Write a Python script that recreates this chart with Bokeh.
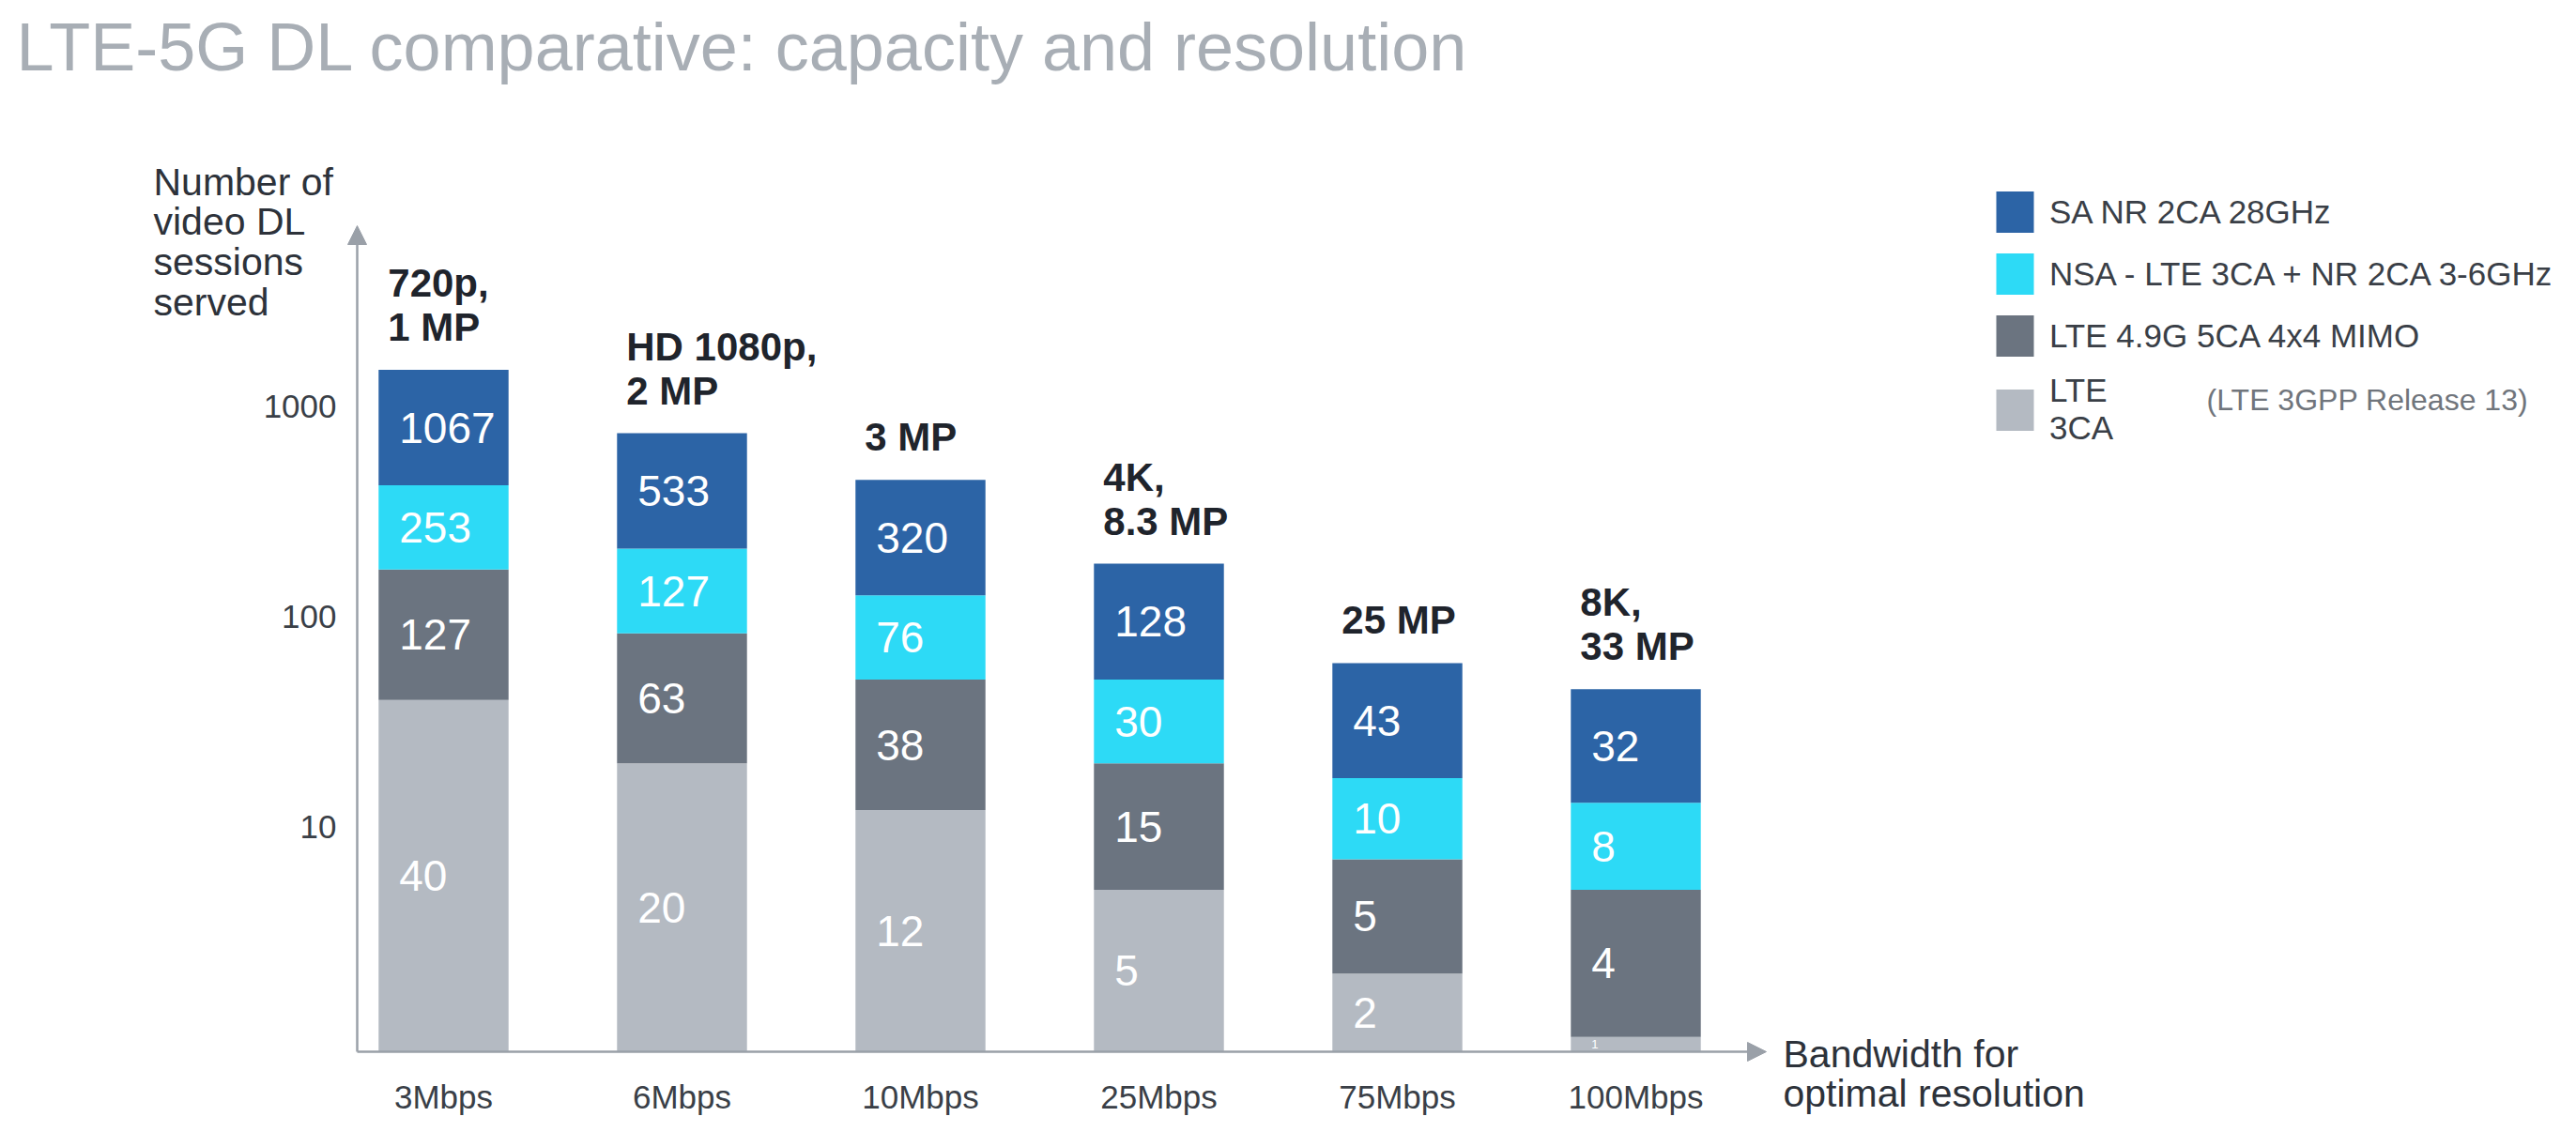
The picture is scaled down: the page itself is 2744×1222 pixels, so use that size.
import numpy as np
from bokeh.plotting import figure
from bokeh.models import (ColumnDataSource, Range1d, FixedTicker, Label, Arrow,
                          NormalHead, Legend, LegendItem, LogAxis, LinearAxis)
from bokeh.core.properties import value
from bokeh.embed import file_html
from bokeh.resources import INLINE

# ---------------- data ----------------
categories = ["3Mbps", "6Mbps", "10Mbps", "25Mbps", "75Mbps", "100Mbps"]
resolutions = ["720p,\n1 MP", "HD 1080p,\n2 MP", "3 MP", "4K,\n8.3 MP", "25 MP", "8K,\n33 MP"]
lte_3ca = [40, 20, 12, 5, 2, 1]
lte_49g = [127, 63, 38, 15, 5, 4]
nsa_lte_nr = [253, 127, 76, 30, 10, 8]
sa_nr_28 = [1067, 533, 320, 128, 43, 32]
series_names = ["LTE\n3CA", "LTE 4.9G 5CA 4x4 MIMO", "NSA - LTE 3CA + NR 2CA 3-6GHz", "SA NR 2CA 28GHz"]
y_ticks = [10, 100, 1000]
y_tick_labels = ["10", "100", "1000"]

# ---------------- layout constants ----------------
FONT = "Liberation Sans"
W, H = 2728, 1206
unit_px = 254.0          # px between bar centres
first_bar_px = 472.0     # canvas x of first bar centre
axis_px = 380.0          # canvas x of the y axis
base_px = 1120.0         # canvas y (from top) of the x axis
y_base = 0.85
px_per_decade = 224.0
bar_w = 0.545

x_lo = -first_bar_px / unit_px
x_hi = (W - first_bar_px) / unit_px
x_axis = (axis_px - first_bar_px) / unit_px
y_lo = y_base * 10 ** (-(H - base_px) / px_per_decade)
y_hi = y_base * 10 ** (base_px / px_per_decade)

colors = ["#b4bac2", "#6b7480", "#2ddaf6", "#2c64a6"]

p = figure(width=W, height=H, x_range=Range1d(x_lo, x_hi),
           y_range=Range1d(y_lo, y_hi), y_axis_type="log",
           x_axis_location=None, y_axis_location=None,
           output_backend="svg", toolbar_location=None,
           min_border=0)
p.outline_line_color = None
p.xgrid.visible = False
p.ygrid.visible = False
p.background_fill_color = "white"

xs = np.arange(len(categories), dtype=float)
stack = [np.array(s, dtype=float) for s in (lte_3ca, lte_49g, nsa_lte_nr, sa_nr_28)]
tops = np.cumsum(stack, axis=0)

renderers = []
txt_x, txt_y, txt, txt_fs = [], [], [], []
for k, (vals, col) in enumerate(zip(stack, colors)):
    top = tops[k]
    bottom = tops[k - 1] if k > 0 else np.full(len(xs), y_base)
    src = ColumnDataSource(dict(x=xs, bottom=bottom, top=top))
    r = p.vbar(x="x", width=bar_w, bottom="bottom", top="top", source=src,
               fill_color=col, line_color=None)
    renderers.append(r)
    for i in range(len(xs)):
        seg_px = np.log10(top[i] / bottom[i]) * px_per_decade
        fs = min(46.0, 0.85 * seg_px)
        txt_x.append(xs[i] - bar_w / 2)
        txt_y.append(np.sqrt(top[i] * bottom[i]))
        txt.append(str(int(vals[i])))
        txt_fs.append(f"{fs:.0f}px")

vsrc = ColumnDataSource(dict(x=txt_x, y=txt_y, text=txt, fs=txt_fs))
p.text(x="x", y="y", text="text", source=vsrc, text_font=value(FONT),
       text_font_size="fs", text_color="white", text_align="left",
       text_baseline="middle", x_offset=22)

rsrc = ColumnDataSource(dict(x=xs - bar_w / 2, y=tops[-1], text=resolutions))
p.text(x="x", y="y", text="text", source=rsrc, text_font=value(FONT),
       text_font_size="42px", text_font_style="bold", text_color="#1f242c",
       text_align="left", text_baseline="bottom", x_offset=10, y_offset=-22,
       text_line_height=1.0)

# axes (placed inside the frame at fixed data locations)
xaxis = LinearAxis(fixed_location=y_base, ticker=FixedTicker(ticks=list(xs)),
                   major_label_overrides={float(i): c for i, c in zip(xs, categories)})
xaxis.axis_line_color = None
xaxis.major_tick_line_color = None
xaxis.minor_tick_line_color = None
xaxis.major_label_text_font = FONT
xaxis.major_label_text_font_size = "35px"
xaxis.major_label_text_color = "#3a3f47"
xaxis.major_label_standoff = 22
p.add_layout(xaxis, "below")

yaxis = LogAxis(fixed_location=x_axis, ticker=FixedTicker(ticks=y_ticks, minor_ticks=[]),
                major_label_overrides={t: l for t, l in zip(y_ticks, y_tick_labels)})
yaxis.axis_line_color = None
yaxis.major_tick_line_color = None
yaxis.minor_tick_line_color = None
yaxis.major_label_text_font = FONT
yaxis.major_label_text_font_size = "35px"
yaxis.major_label_text_color = "#3a3f47"
yaxis.major_label_standoff = 16
p.add_layout(yaxis, "left")

axis_col = "#9aa0a8"
y_tip = y_base * 10 ** ((base_px - 240) / px_per_decade)
x_tip = x_axis + (1881 - axis_px) / unit_px
for (xe, ye) in [(x_axis, y_tip), (x_tip, y_base)]:
    p.add_layout(Arrow(end=NormalHead(size=20, fill_color=axis_col, line_color=axis_col),
                       x_start=x_axis, y_start=y_base, x_end=xe, y_end=ye,
                       line_color=axis_col, line_width=2.5))

# texts (screen units: from the canvas' bottom-left corner)
p.add_layout(Label(x=17, y=H - 49, x_units="screen", y_units="screen",
                   text="LTE-5G DL comparative: capacity and resolution",
                   text_font=FONT, text_font_size="72px", text_color="#a8aeb5",
                   text_baseline="alphabetic"))
p.add_layout(Label(x=163, y=H - 170, x_units="screen", y_units="screen",
                   text="Number of\nvideo DL\nsessions\nserved",
                   text_font=FONT, text_font_size="41px", text_color="#2d323a",
                   text_baseline="top", text_line_height=0.93))
p.add_layout(Label(x=1899, y=H - 1099, x_units="screen", y_units="screen",
                   text="Bandwidth for\noptimal resolution",
                   text_font=FONT, text_font_size="41px", text_color="#2d323a",
                   text_baseline="top", text_line_height=0.92))
p.add_layout(Label(x=2350, y=H - 425, x_units="screen", y_units="screen",
                   text="(LTE 3GPP Release 13)",
                   text_font=FONT, text_font_size="32px", text_color="#70757c",
                   text_baseline="middle"))

items = [LegendItem(label=series_names[k], renderers=[renderers[k]]) for k in (3, 2, 1, 0)]
legend = Legend(items=items, location=(2121, H - 476), glyph_width=50, glyph_height=55,
                spacing=11, padding=0, margin=0, border_line_color=None,
                background_fill_alpha=0, label_text_font=FONT,
                label_text_font_size="35px", label_text_color="#3a3f47",
                label_standoff=12, label_text_line_height=1.3)
p.add_layout(legend)

open("out.html", "w").write(file_html(p, INLINE))
